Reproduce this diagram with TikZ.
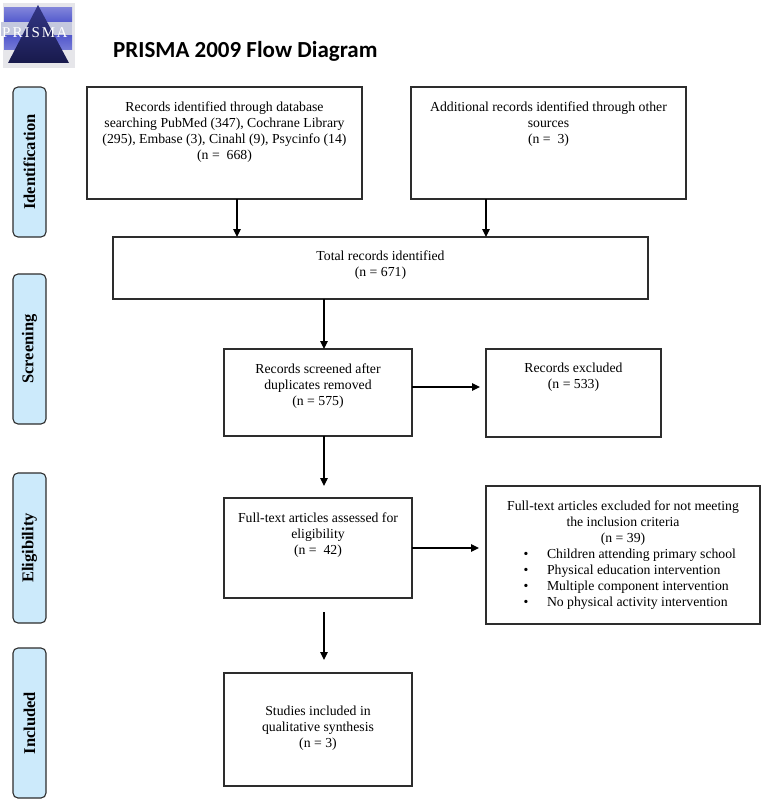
\documentclass[tikz,border=0pt]{standalone}
\usepackage{fontspec}
\setmainfont{Liberation Serif}
\newfontfamily\titlefont{Carlito}
\usetikzlibrary{arrows.meta}
\definecolor{phasefill}{RGB}{204,234,251}
\definecolor{bordergray}{RGB}{45,45,45}
\definecolor{logobg}{RGB}{230,230,234}
\definecolor{logoblue}{RGB}{84,90,205}
\definecolor{logonavy}{RGB}{24,26,76}
\definecolor{logostripe}{RGB}{196,200,222}
\begin{document}
\begin{tikzpicture}[x=1pt,y=1pt,
  box/.style={draw=bordergray, line width=1.2pt, inner sep=0pt, outer sep=0pt},
  txt/.style={inner sep=0pt, align=center, font=\fontsize{13.75}{16}\selectfont},
  phase/.style={draw=bordergray, line width=1.1pt, fill=phasefill, rounded corners=5pt, rotate=90, minimum width=150pt, minimum height=33pt, inner sep=0pt, font=\fontsize{16.5}{19}\selectfont\bfseries},
  arr/.style={line width=1.1pt, draw=black, -{Triangle[length=8pt,width=7.5pt]}}
]
\useasboundingbox (0,0) rectangle (762,-800);
\fill[white] (0,0) rectangle (762,-800);
% logo
\fill[logobg] (3,-3) rectangle (75,-68);
\shade[top color=logoblue!75!white, bottom color=logoblue] (4,-8) rectangle (72,-22);
\fill[logostripe] (1,-22) rectangle (72,-36);
\shade[top color=logoblue, bottom color=logoblue!80!white] (4,-36) rectangle (72,-50);
\shade[top color=logonavy!55!logoblue, bottom color=logonavy] (38,-5) -- (69,-63) -- (8,-63) -- cycle;
\node[inner sep=0pt, anchor=base west, font=\fontsize{15}{15}\selectfont, text=white] (logotext) at (2,-37.5) {P\hspace{2pt}R\hspace{2pt}I\hspace{2pt}S\hspace{2pt}M\hspace{1.5pt}A};
% title
\node[anchor=base west, inner sep=0pt, font=\titlefont\fontsize{23}{27}\selectfont\bfseries] (title) at (113,-57) {PRISMA 2009 Flow Diagram};
% phases
\node[phase] (pid) at (29.5,-162) {Identification};
\node[phase] (pscr) at (29.5,-349) {Screening};
\node[phase] (pel) at (29.5,-548) {Eligibility};
\node[phase] (pin) at (29.5,-723) {Included};
% boxes
\node[box, minimum width=275pt, minimum height=112pt] (b1) at (224.5,-143) {};
\node[box, minimum width=275pt, minimum height=112pt] (b2) at (548.5,-143) {};
\node[box, minimum width=535pt, minimum height=62pt] (tot) at (380.5,-268) {};
\node[box, minimum width=188pt, minimum height=87pt] (scr) at (318,-392.5) {};
\node[box, minimum width=175pt, minimum height=88pt] (ex1) at (573.5,-393) {};
\node[box, minimum width=188pt, minimum height=100pt] (ft) at (318,-548) {};
\node[box, minimum width=274pt, minimum height=138pt] (ex2) at (623,-555) {};
\node[box, minimum width=188pt, minimum height=113pt] (st) at (318,-729.5) {};
% texts
\node[txt, anchor=north] (b1t) at ([yshift=-14.5pt]b1.north) {Records identified through database\\ searching PubMed (347), Cochrane Library\\ (295), Embase (3), Cinahl (9), Psycinfo (14)\\ (n = \ 668)};
\node[txt, anchor=north] (b2t) at ([yshift=-14.5pt]b2.north) {Additional records identified through other\\ sources\\ (n = \ 3)};
\node[txt, anchor=north] (tott) at ([yshift=-13.5pt]tot.north) {Total records identified\\ (n = 671)};
\node[txt, anchor=north] (scrt) at ([yshift=-14.5pt]scr.north) {Records screened after\\ duplicates removed\\ (n = 575)};
\node[txt, anchor=north] (ex1t) at ([yshift=-13.5pt]ex1.north) {Records excluded\\ (n = 533)};
\node[txt, anchor=north] (ftt) at ([yshift=-14.5pt]ft.north) {Full-text articles assessed for\\ eligibility\\ (n = \ 42)};
\node[txt, anchor=north, align=left] (ex2t) at ([yshift=-14.5pt]ex2.north) {\parbox{274pt}{\centering Full-text articles excluded for not meeting\\ the inclusion criteria\\ (n = 39)\par\raggedright\leftskip=37.5pt
\textbullet\hspace{18.7pt}Children attending primary school\\
\textbullet\hspace{18.7pt}Physical education intervention\\
\textbullet\hspace{18.7pt}Multiple component intervention\\
\textbullet\hspace{18.7pt}No physical activity intervention\par}};
\node[txt, anchor=north] (stt) at ([yshift=-32.5pt]st.north) {Studies included in\\ qualitative synthesis\\ (n = 3)};
% arrows
\coordinate (xa) at (237,0);
\coordinate (xb) at (486,0);
\coordinate (xm) at (324,0);
\coordinate (ya) at (0,-387);
\draw[arr] (b1.south -| xa) -- (tot.north -| xa);
\draw[arr] (b2.south -| xb) -- (tot.north -| xb);
\draw[arr] (tot.south -| xm) -- (scr.north -| xm);
\draw[arr, shorten >=12pt] (scr.south -| xm) -- (ft.north -| xm);
\draw[arr, shorten <=14pt, shorten >=13pt] (ft.south -| xm) -- (st.north -| xm);
\draw[arr, shorten >=6pt] (scr.east |- ya) -- (ex1.west |- ya);
\draw[arr, shorten >=7pt] (ft.east) -- (ft.east -| ex2.west);
\end{tikzpicture}
\end{document}
